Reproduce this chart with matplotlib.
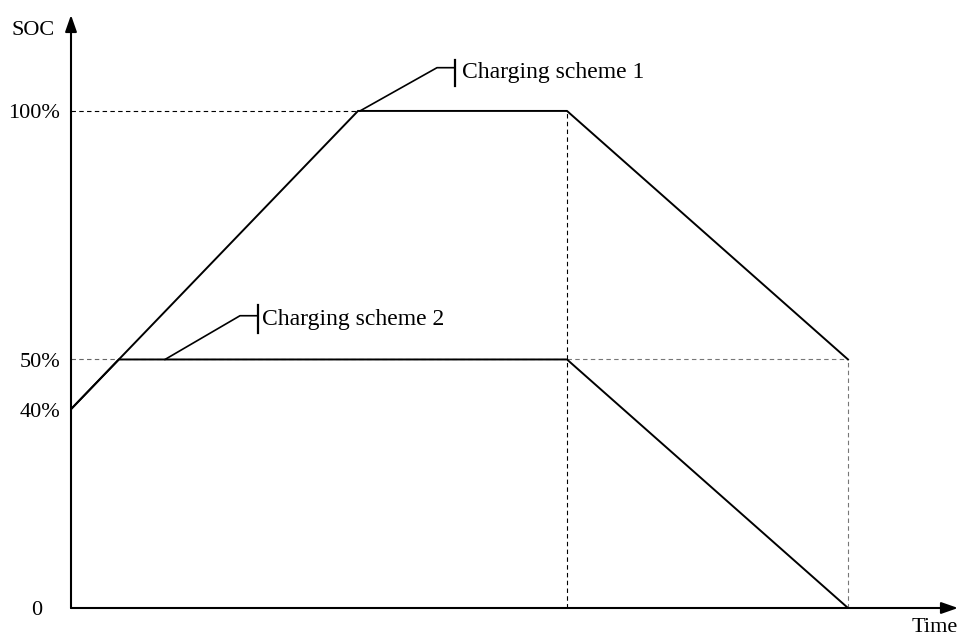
import matplotlib.pyplot as plt

plt.rcParams['font.family'] = ['Liberation Serif', 'DejaVu Serif']

# time in arbitrary units, SOC in percent
t_scheme1 = [0, 2.87, 4.96, 7.77]
soc_scheme1 = [40, 100, 100, 50]
t_scheme2 = [0, 0.478, 4.96, 7.77]
soc_scheme2 = [40, 50, 50, 0]
ytick_vals = [0, 40, 50, 100]
ytick_labels = ['0', '40%', '50%', '100%']

fig = plt.figure(figsize=(9.62, 6.37), dpi=100)
ax = fig.add_axes([71/962, 29/637, 887/962, 593/637])
xmax, ymax = 8.87, 119.3
ax.set_xlim(0, xmax)
ax.set_ylim(0, ymax)
ax.axis('off')

# guide lines
ax.plot([0, t_scheme1[1]], [100, 100], ls=(0, (4, 3)), color='black', lw=0.8)
ax.plot([0, t_scheme2[2]], [50, 50], ls=(0, (4, 3)), color='#666666', lw=0.8)
ax.plot([t_scheme2[2], t_scheme1[3]], [50, 50], ls=(0, (4, 3)), color='#777777', lw=0.8)
ax.plot([t_scheme1[2], t_scheme1[2]], [0, 100], ls=(0, (4, 3)), color='black', lw=0.8)
ax.plot([t_scheme1[3], t_scheme1[3]], [0, 50], ls=(0, (4, 3)), color='#777777', lw=0.8)

ax.plot(t_scheme1, soc_scheme1, color='black', lw=1.4, solid_joinstyle='miter')
ax.plot(t_scheme2, soc_scheme2, color='black', lw=1.4, solid_joinstyle='miter')

# axes with arrows
arrow = dict(arrowstyle='-|>,head_length=1.0,head_width=0.35', color='black', lw=1.5, shrinkA=0, shrinkB=0)
ax.annotate('', xy=(xmax, 0), xytext=(0, 0), annotation_clip=False, arrowprops=arrow)
ax.annotate('', xy=(0, ymax), xytext=(0, 0), annotation_clip=False, arrowprops=arrow)

fs = 16
for v, lab in zip(ytick_vals, ytick_labels):
    xpos = -0.11 if v else -0.29
    ax.text(xpos, v - 0.6, lab, ha='right', va='center', fontsize=fs, clip_on=False)
ax.text(-0.16, 116.2, 'SOC', ha='right', va='center', fontsize=fs, clip_on=False)
ax.text(xmax, -4.0, 'Time', ha='right', va='center', fontsize=fs, clip_on=False)

# callouts
ax.plot([2.89, 3.66, 3.84], [100, 108.7, 108.7], color='black', lw=1.2, clip_on=False)
ax.plot([3.84, 3.84], [105.0, 110.3], color='black', lw=1.6, clip_on=False)
ax.text(3.91, 107.8, 'Charging scheme 1', ha='left', va='center', fontsize=17)

ax.plot([0.94, 1.69, 1.87], [50, 58.8, 58.8], color='black', lw=1.2)
ax.plot([1.87, 1.87], [55.3, 61.0], color='black', lw=1.6)
ax.text(1.91, 58.0, 'Charging scheme 2', ha='left', va='center', fontsize=17)

fig.savefig('out.png', dpi=100)
